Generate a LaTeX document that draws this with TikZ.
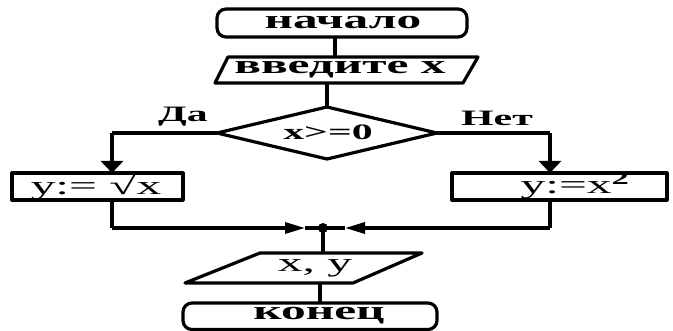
\documentclass[tikz,border=0pt]{standalone}
\usepackage{fontspec}
\setmainfont{Liberation Serif}
\newfontfamily\wide[FakeStretch=1.9]{Liberation Serif}
\usetikzlibrary{arrows.meta}
\tikzset{
  ln/.style={line width=3.2pt},
  shp/.style={line width=3.2pt, line join=round},
  txt/.style={inner sep=0pt, font=\wide\bfseries\fontsize{26}{26}\selectfont},
  rtxt/.style={inner sep=0pt, font=\wide\fontsize{26}{26}\selectfont},
  lbl/.style={inner sep=0pt, font=\wide\bfseries\fontsize{22}{22}\selectfont},
  dtxt/.style={inner sep=0pt, font=\wide\bfseries\fontsize{22}{22}\selectfont},
  darr/.style={ln, -{Triangle[width=22pt,length=12pt]}},
  harr/.style={ln, -{Triangle[width=11pt,length=20pt]}},
}
\begin{document}
\begin{tikzpicture}[x=1pt,y=-1pt]
\useasboundingbox (0,0) rectangle (673,331);
% start terminal
\draw[shp, rounded corners=9pt] (217,9) rectangle (467,37);
\node[txt] (start) at (343,23) {начало};
% input
\draw[shp] (228,57) -- (478,57) -- (463,83) -- (215,83) -- cycle;
\node[txt] (inp) at (340,70) {введите x};
% decision
\draw[shp] (327,107) -- (437,133) -- (327,159) -- (217,133) -- cycle;
\node[dtxt] (dec) at (328,132) {x>=0};
% boxes
\draw[shp] (12,173) rectangle (183,200);
\node[rtxt] (lbox) at (96,187) {y:= √x};
\draw[shp] (452,173) rectangle (667,200);
\node[rtxt] (rbox) at (575,186) {y:=x\textsuperscript{\bfseries 2}};
% output
\draw[shp] (260,253) -- (422,253) -- (353,283) -- (185,283) -- cycle;
\node[rtxt] (out) at (315,268) {x, y};
% end terminal
\draw[shp, rounded corners=9pt] (183,303) rectangle (437,329.5);
\node[txt] (fin) at (319,316) {конец};
% labels
\node[lbl] (da) at (183,117) {Да};
\node[lbl] (net) at (497,118) {Нет};
% coordinates
\coordinate (s1) at (335,37);
\coordinate (s2) at (335,57);
\coordinate (i1) at (327,83);
\coordinate (d0) at (327,107);
\coordinate (dl) at (217,133);
\coordinate (dr) at (437,133);
\coordinate (lc) at (112,133);
\coordinate (lt) at (112,173);
\coordinate (rc) at (550,133);
\coordinate (rt) at (550,173);
\coordinate (lb) at (112,200);
\coordinate (lbc) at (112,228);
\coordinate (la) at (305,228);
\coordinate (rb) at (550,200);
\coordinate (rbc) at (550,228);
\coordinate (ra) at (345,228);
\coordinate (j) at (323,228);
\coordinate (o1) at (323,253);
\coordinate (o2) at (320,283);
\coordinate (e1) at (320,303);
% connectors
\draw[ln] (s1) -- (s2);
\draw[ln] (i1) -- (d0);
\draw[ln] (dl) -- (lc);
\draw[darr] (lc) -- (lt);
\draw[ln] (dr) -- (rc);
\draw[darr] (rc) -- (rt);
\draw[ln] (lb) -- (lbc);
\draw[harr] (lbc) -- (la);
\draw[ln] (la) -- (j);
\draw[ln] (rb) -- (rbc);
\draw[harr] (rbc) -- (ra);
\draw[ln] (ra) -- (j);
\draw[ln] (j) -- (o1);
\fill (j) circle (5pt);
\draw[ln] (o2) -- (e1);
\end{tikzpicture}
\end{document}
